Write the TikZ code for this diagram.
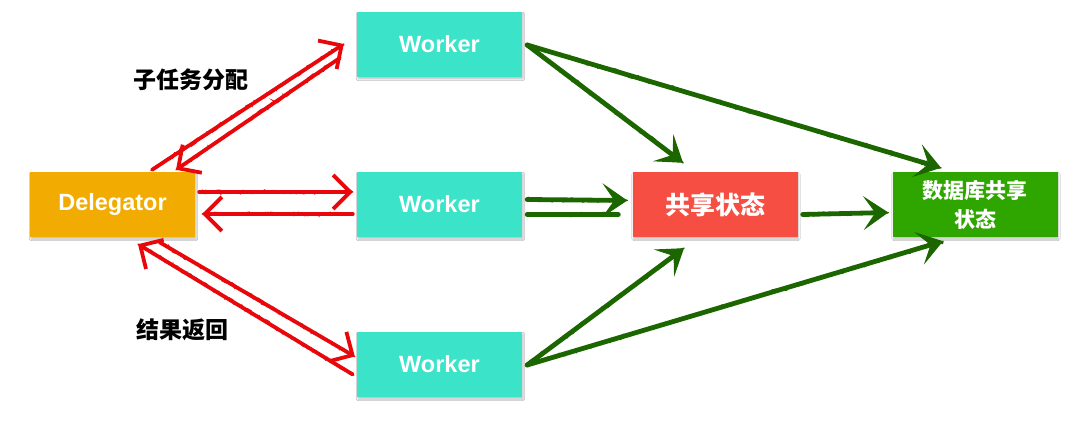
\documentclass[tikz,border=0pt]{standalone}
\usepackage{fontspec}
\setsansfont{Liberation Sans}
\newfontfamily\cjk{Noto Sans CJK SC}
\usetikzlibrary{arrows.meta,calc,decorations.pathmorphing,shadows.blur}
\definecolor{workerc}{RGB}{59,227,201}
\definecolor{delc}{RGB}{242,171,0}
\definecolor{ssc}{RGB}{246,78,66}
\definecolor{dbc}{RGB}{47,165,0}
\definecolor{redc}{RGB}{232,8,12}
\definecolor{greenc}{RGB}{28,102,0}
\begin{document}
\begin{tikzpicture}[x=1pt,y=-1pt,
  box/.style={minimum width=165pt,minimum height=65pt,inner sep=0pt,text=white,
    blur shadow={shadow xshift=1pt,shadow yshift=-2pt,shadow blur steps=6,shadow opacity=25}},
  lat/.style={font=\sffamily\bfseries\fontsize{23.5}{28}\selectfont},
  cjkbox/.style={font=\cjk\bfseries\fontsize{25}{30}\selectfont},
  cjklabel/.style={font=\cjk\bfseries\fontsize{23}{28}\selectfont,text=black,inner sep=0pt},
  redarr/.style={draw=redc,line width=3.8pt,line cap=round,
    -{Straight Barb[length=17pt,width=34pt,line width=3.8pt]},
    postaction={draw=redc,-,line width=1.3pt,decorate,
      decoration={random steps,segment length=2.5pt,amplitude=1.8pt}}},
  greenarr/.style={draw=greenc,line width=4.8pt,line cap=round,
    -{Stealth[length=25pt,width=34pt,inset=12pt,line width=1pt]},
    postaction={draw=greenc,-,line width=1.5pt,decorate,
      decoration={random steps,segment length=3pt,amplitude=2pt}}},
  greenline/.style={draw=greenc,line width=4.8pt,line cap=round,
    postaction={draw=greenc,line width=1.5pt,decorate,
      decoration={random steps,segment length=3pt,amplitude=2pt}}}
]
\fill[white] (0,0) rectangle (1080,422);
\useasboundingbox (0,0) rectangle (1080,422);

% boxes
\node[box,fill=delc,lat] (del) at (112.5,204.5) {Delegator};
\node[box,fill=workerc,lat] (w1) at (439.5,44.5) {Worker};
\node[box,fill=workerc,lat] (w2) at (439.5,204.5) {Worker};
\node[box,fill=workerc,lat] (w3) at (439.5,364.5) {Worker};
\node[box,fill=ssc,cjkbox] (ss) at (715,204.5) {共享状态};
\node[box,fill=dbc,align=center,font=\cjk\bfseries\fontsize{21}{29}\selectfont] (db) at (975,204.5) {数据库共享\\状态};

% labels
\node[cjklabel] (l1) at (191,80) {子任务分配};
\node[cjklabel] (l2) at (182,330) {结果返回};

% red arrows: delegator <-> workers
\draw[redarr] ($(del.north)+(39.5,-2)$) -- ($(w1.west)+(-13,-0.5)$);
\draw[redarr] ($(w1.west)+(-17,13.5)$) -- ($(del.north)+(63.5,-2)$);
\draw[redarr] ($(del.east)+(4,-12.5)$) -- ($(w2.west)+(-4,-12.5)$);
\draw[redarr] ($(w2.west)+(-4,9.5)$) -- ($(del.east)+(7,9.5)$);
\draw[redarr] ($(del.south)+(47,5)$) -- ($(w3.west)+(-2,-8)$);
\draw[redarr] ($(w3.west)+(-4,10)$) -- ($(del.south)+(25.5,7)$);

% green arrows: workers -> shared states
\draw[greenarr] ($(w1.east)+(5,0.5)$) -- ($(ss.north)+(-32,-9)$);
\draw[greenarr] ($(w1.east)+(5,0.5)$) -- ($(db.north)+(-34,-4)$);
\draw[greenarr] ($(w2.east)+(5,-5)$) -- ($(ss.west)+(-5,-4)$);
\draw[greenline] ($(w2.east)+(5,10)$) -- ($(ss.west)+(-14,10)$);
\draw[greenarr] ($(ss.east)+(5,10)$) -- ($(db.west)+(-4,8)$);
\draw[greenarr] ($(w3.east)+(5,0.5)$) -- ($(ss.south)+(-31,11)$);
\draw[greenarr] ($(w3.east)+(5,0.5)$) -- ($(db.south)+(-32,4)$);
\end{tikzpicture}
\end{document}
